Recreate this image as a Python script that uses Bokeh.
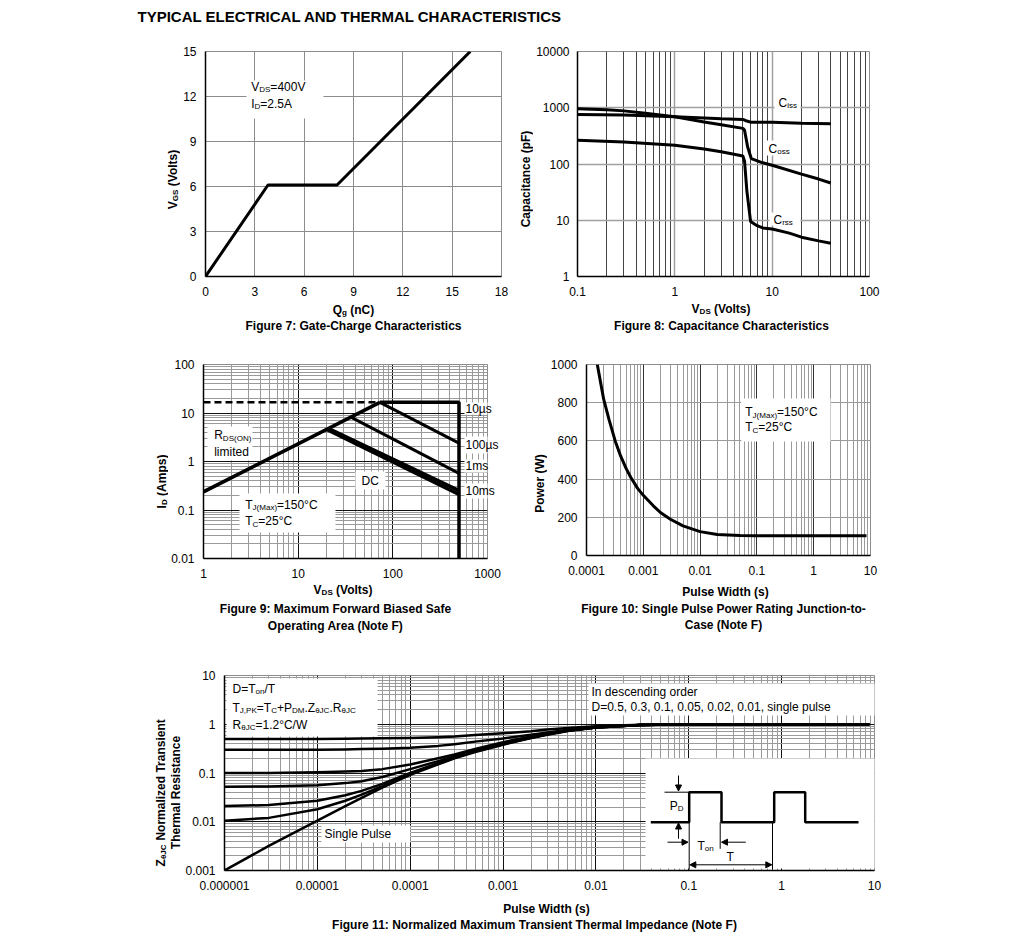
import math
from bokeh.plotting import figure
from bokeh.models import (Range1d, LinearScale, FixedTicker, CustomJSTickFormatter,
                          Label, Arrow, NormalHead, BoxAnnotation, LinearAxis)
from bokeh.layouts import column, row
from bokeh.embed import file_html
from bokeh.resources import INLINE

FONT = "Liberation Sans"

# ---------------- data ----------------
# Figure 7: gate charge
f7_qg = [0.0, 3.8, 8.0, 16.1]
f7_vgs = [0.0, 6.1, 6.1, 15.0]
f7_xticks = [0, 3, 6, 9, 12, 15, 18]
f7_xlabels = ["0", "3", "6", "9", "12", "15", "18"]
f7_yticks = [0, 3, 6, 9, 12, 15]
f7_ylabels = ["0", "3", "6", "9", "12", "15"]

# Figure 8: capacitance
f8_ciss_v = [0.1, 0.3, 1, 2, 3, 5, 5.5, 6, 10, 20, 40]
f8_ciss = [760, 740, 690, 660, 640, 620, 580, 555, 550, 530, 520]
f8_coss_v = [0.1, 0.2, 0.3, 0.5, 1, 2, 3, 5, 5.2, 5.6, 6.1, 8, 10, 20, 30, 40]
f8_coss = [960, 920, 880, 800, 690, 560, 500, 430, 400, 200, 125, 105, 95, 66, 54, 46]
f8_crss_v = [0.1, 0.3, 1, 2, 3, 5, 5.2, 5.5, 6.0, 7, 8, 10, 15, 20, 30, 40]
f8_crss = [265, 245, 215, 185, 165, 139, 112, 33, 9.5, 8.0, 7.3, 7.0, 5.9, 5.0, 4.3, 3.9]
f8_xticks = [0.1, 1, 10, 100]
f8_xlabels = ["0.1", "1", "10", "100"]
f8_yticks = [1, 10, 100, 1000, 10000]
f8_ylabels = ["1", "10", "100", "1000", "10000"]

# Figure 9: safe operating area
f9_rds_v = [1, 73]
f9_rds_i = [0.237, 16.6]
f9_lim_v = [1, 73]
f9_lim_i = [16.6, 16.6]
f9_10us_v = [73, 500, 500]
f9_10us_i = [16.6, 16.6, 0.01]
f9_100us_v = [73, 500]
f9_100us_i = [16.6, 2.4]
f9_1ms_v = [36, 500]
f9_1ms_i = [8.2, 0.57]
f9_10ms_v = [21, 500]
f9_10ms_i = [4.8, 0.25]
f9_dc_v = [20, 500]
f9_dc_i = [4.6, 0.21]
f9_xticks = [1, 10, 100, 1000]
f9_xlabels = ["1", "10", "100", "1000"]
f9_yticks = [0.01, 0.1, 1, 10, 100]
f9_ylabels = ["0.01", "0.1", "1", "10", "100"]
f9_curve_names = ["10µs", "100µs", "1ms", "10ms"]

# Figure 10: single pulse power
f10_t = [1.55e-4, 2e-4, 2.5e-4, 3.2e-4, 4e-4, 5e-4, 6e-4, 8e-4, 1e-3, 1.5e-3, 2e-3,
         3e-3, 5e-3, 1e-2, 2e-2, 5e-2, 0.1, 1, 8.5]
f10_p = [1000, 820, 710, 600, 520, 455, 410, 350, 315, 260, 225,
         190, 155, 125, 110, 105, 104, 104, 104]
f10_xticks = [1e-4, 1e-3, 1e-2, 1e-1, 1, 10]
f10_xlabels = ["0.0001", "0.001", "0.01", "0.1", "1", "10"]
f10_yticks = [0, 200, 400, 600, 800, 1000]
f10_ylabels = ["0", "200", "400", "600", "800", "1000"]

# Figure 11: normalized transient thermal impedance
f11_t = [1e-6, 3e-6, 1e-5, 2e-5, 3e-5, 5e-5, 1e-4, 2e-4, 3e-4, 5e-4, 1e-3, 2e-3, 3e-3,
         5e-3, 1e-2, 3e-2, 0.1, 1, 8.8]
f11_d05 = [0.50, 0.50, 0.50, 0.505, 0.51, 0.515, 0.52, 0.54, 0.56, 0.60, 0.65, 0.72, 0.78,
           0.84, 0.91, 0.98, 1, 1, 1]
f11_d03 = [0.30, 0.30, 0.30, 0.305, 0.31, 0.315, 0.33, 0.36, 0.39, 0.44, 0.51, 0.61, 0.68,
           0.77, 0.88, 0.97, 1, 1, 1]
f11_d01 = [0.10, 0.10, 0.103, 0.107, 0.11, 0.12, 0.15, 0.20, 0.24, 0.31, 0.43, 0.56, 0.64,
           0.75, 0.87, 0.97, 1, 1, 1]
f11_d005 = [0.052, 0.053, 0.056, 0.062, 0.068, 0.083, 0.12, 0.175, 0.22, 0.29, 0.41, 0.54,
            0.63, 0.745, 0.86, 0.97, 1, 1, 1]
f11_d002 = [0.021, 0.022, 0.027, 0.035, 0.043, 0.06, 0.10, 0.16, 0.21, 0.28, 0.40, 0.53,
            0.62, 0.74, 0.86, 0.97, 1, 1, 1]
f11_d001 = [0.0105, 0.012, 0.018, 0.027, 0.036, 0.054, 0.097, 0.155, 0.205, 0.275, 0.39,
            0.525, 0.62, 0.735, 0.86, 0.97, 1, 1, 1]
f11_single = [0.001, 0.0032, 0.0105, 0.021, 0.031, 0.05, 0.092, 0.15, 0.20, 0.27, 0.38,
              0.52, 0.61, 0.73, 0.86, 0.97, 1, 1, 1]
f11_xticks = [1e-6, 1e-5, 1e-4, 1e-3, 1e-2, 1e-1, 1, 10]
f11_xlabels = ["0.000001", "0.00001", "0.0001", "0.001", "0.01", "0.1", "1", "10"]
f11_yticks = [0.001, 0.01, 0.1, 1, 10]
f11_ylabels = ["0.001", "0.01", "0.1", "1", "10"]

# inset pulse diagram of figure 11 (diagram units = frame pixels)
pulse_x = [426.3, 464.7, 464.7, 497, 497, 549.7, 549.7, 580.7, 580.7, 634]
pulse_y = [48.3, 48.3, 78.3, 78.3, 48.3, 48.3, 78.3, 78.3, 48.3, 48.3]

# ---------------- helpers ----------------
REG = {' ': 278, '(': 333, ')': 333, '+': 584, ',': 278, '-': 333, '.': 278, '/': 278,
       ':': 278, '=': 584, '°': 400, 'µ': 576, 'θ': 556,
       'A': 667, 'B': 667, 'C': 722, 'D': 722, 'E': 667, 'F': 611, 'G': 778, 'H': 722,
       'I': 278, 'J': 500, 'K': 667, 'L': 556, 'M': 833, 'N': 722, 'O': 778, 'P': 667,
       'Q': 778, 'R': 722, 'S': 667, 'T': 611, 'U': 722, 'V': 667, 'W': 944, 'X': 667,
       'Y': 667, 'Z': 611,
       'a': 556, 'b': 556, 'c': 500, 'd': 556, 'e': 556, 'f': 278, 'g': 556, 'h': 556,
       'i': 222, 'j': 222, 'k': 500, 'l': 222, 'm': 833, 'n': 556, 'o': 556, 'p': 556,
       'q': 556, 'r': 333, 's': 500, 't': 278, 'u': 556, 'v': 500, 'w': 722, 'x': 500,
       'y': 500, 'z': 500}
BOLD = dict(REG)
BOLD.update({':': 333, 'µ': 611, 'θ': 611, 'A': 722, 'B': 722, 'J': 556, 'K': 722, 'L': 611,
             'b': 611, 'c': 556, 'd': 611, 'f': 333, 'g': 611, 'h': 611, 'i': 278, 'j': 278,
             'k': 556, 'l': 278, 'm': 889, 'n': 611, 'o': 611, 'p': 611, 'q': 611, 'r': 389,
             's': 556, 't': 333, 'u': 611, 'v': 556, 'w': 778, 'x': 556, 'y': 556})

GEO = {}


def tw(s, size, bold=False):
    tbl = BOLD if bold else REG
    return sum(tbl.get(c, 556) for c in s) * size / 1000.0


def rich(p, x, y, segs, size=12, bold=False, align="left", vertical=False, sub=0.67):
    """Text made of (text, is_subscript) segments in frame-pixel coords;
    y is the visual centre of the capitals."""
    if isinstance(segs, str):
        segs = [(segs, False)]
    sizes = [size * sub if s else size for _, s in segs]
    widths = [tw(t, sz, bold) for (t, _), sz in zip(segs, sizes)]
    total = sum(widths)
    single = len(segs) == 1 and align == "center"
    pos = (y if vertical else x)
    if align == "center" and not single:
        pos -= total / 2.0
    for (t, s), sz, w in zip(segs, sizes, widths):
        lead = len(t) - len(t.lstrip(' '))
        lw = tw(' ' * lead, sz, bold)
        t = t.lstrip(' ')
        drop = 0.27 * size if s else 0.0
        if vertical:
            lx, ly, ang = x + drop, pos + lw, math.pi / 2
        else:
            lx, ly, ang = pos + lw, y - drop, 0.0
        p.add_layout(Label(x=lx, y=ly, text=t, x_range_name="px", y_range_name="px",
                           text_font=FONT, text_font_size="%.2fpx" % sz,
                           text_font_style="bold" if bold else "normal",
                           text_align="center" if single else "left",
                           text_baseline="middle", angle=ang, text_color="black"))
        pos += w


def put(p, X, Y, segs, **kw):
    fl, fb = GEO[id(p)]
    rich(p, X - fl, fb - Y, segs, **kw)


def wbox(p, X0, X1, Y0, Y1):
    fl, fb = GEO[id(p)]
    p.add_layout(BoxAnnotation(left=X0 - fl, right=X1 - fl, bottom=fb - Y1, top=fb - Y0,
                               x_range_name="px", y_range_name="px", fill_color="white",
                               fill_alpha=1.0, line_color=None, level="underlay"))


def fmt(vals, labs):
    return CustomJSTickFormatter(args=dict(vals=vals, labs=labs), code="""
        for (let i = 0; i < vals.length; i++) {
            if (Math.abs(vals[i] - tick) <= 1e-9 * Math.abs(vals[i]) + 1e-12) return labs[i];
        }
        return "";
    """)


def log_minors(lo, hi):
    return [m * 10.0 ** k for k in range(lo, hi) for m in range(2, 10)]


def set_ticks(p, axis, vals, labs, minors, major_color, minor_color, major_width=1.0,
              minor_width=1.0):
    t = FixedTicker(ticks=vals, minor_ticks=minors)
    ax = p.xaxis[0] if axis == "x" else p.yaxis[0]
    g = p.xgrid[0] if axis == "x" else p.ygrid[0]
    ax.ticker = t
    g.ticker = t
    ax.formatter = fmt(vals, labs)
    g.grid_line_color = major_color
    g.grid_line_width = major_width
    g.grid_line_alpha = 1.0
    g.minor_grid_line_color = minor_color
    g.minor_grid_line_width = minor_width


def px_ranges(p, w, h):
    p.extra_x_ranges = {"px": Range1d(0, w)}
    p.extra_y_ranges = {"px": Range1d(0, h)}
    p.extra_x_scales = {"px": LinearScale()}
    p.extra_y_scales = {"px": LinearScale()}


def chart(left, top, L, T, fw, fh, R, B, xr, yr, xlog, ylog, ystand=9):
    p = figure(frame_width=fw, frame_height=fh, min_border_left=L, min_border_right=R,
               min_border_top=T, min_border_bottom=B, x_range=Range1d(*xr),
               y_range=Range1d(*yr), x_axis_type="log" if xlog else "linear",
               y_axis_type="log" if ylog else "linear", toolbar_location=None,
               output_backend="svg", background_fill_color="white",
               border_fill_color="white")
    px_ranges(p, fw, fh)
    p.outline_line_color = "#8c8c8c"
    p.outline_line_width = 1
    for ax in (p.xaxis[0], p.yaxis[0]):
        ax.axis_line_color = "black"
        ax.axis_line_width = 1.5
        ax.major_tick_line_color = None
        ax.minor_tick_line_color = None
        ax.major_tick_out = 0
        ax.major_tick_in = 0
        ax.minor_tick_out = 0
        ax.minor_tick_in = 0
        ax.major_label_text_font = FONT
        ax.major_label_text_font_size = "12px"
        ax.major_label_text_color = "black"
    p.xaxis[0].major_label_standoff = 10
    p.yaxis[0].major_label_standoff = ystand
    GEO[id(p)] = (left + L, top + T + fh)
    return p


def strip(left, top, w, h):
    s = figure(frame_width=w, frame_height=h, min_border=0, x_range=Range1d(0, w),
               y_range=Range1d(0, h), x_axis_location=None, y_axis_location=None,
               toolbar_location=None, output_backend="svg", background_fill_color="white",
               border_fill_color="white")
    s.grid.visible = False
    s.outline_line_color = None
    px_ranges(s, w, h)
    GEO[id(s)] = (left, top + h)
    return s


# ---------------- layout skeleton (page pixels) ----------------
H = strip(0, 0, 1012, 36)
S7 = strip(0, 36, 180, 266)
P7 = chart(180, 36, 25, 15, 296, 225, 10, 26, (0, 18), (0, 15), False, False)
S8 = strip(511, 36, 22, 266)
P8 = chart(533, 36, 42, 15, 292, 225, 145, 26, (0.1, 100), (1, 10000), True, True, 8)
C1 = strip(0, 302, 1012, 38)
S9 = strip(0, 340, 168, 242)
P9 = chart(168, 340, 33, 20, 284, 194, 30, 28, (1, 1000), (0.01, 100), True, True)
S10 = strip(515, 340, 30, 242)
P10 = chart(545, 340, 38, 24, 284, 191, 145, 27, (1e-4, 10), (0, 1000), True, False)
C2 = strip(0, 582, 1012, 73)
S11 = strip(0, 655, 182, 241)
P11 = chart(182, 655, 40, 20, 650, 195, 140, 26, (1e-6, 10), (0.001, 10), True, True)
C3 = strip(0, 896, 1012, 40)

put(H, 137, 16, "TYPICAL ELECTRICAL AND THERMAL CHARACTERISTICS", size=15, bold=True)

# ---------------- Figure 7 ----------------
set_ticks(P7, "x", f7_xticks, f7_xlabels, [], "#8c8c8c", None)
set_ticks(P7, "y", f7_yticks, f7_ylabels, [], "#8c8c8c", None)
wbox(P7, 246, 323, 80, 118)
P7.line(f7_qg, f7_vgs, line_width=3, color="black")
put(P7, 250.7, 86, [("V", 0), ("DS", 1), ("=400V", 0)])
put(P7, 250.7, 103, [("I", 0), ("D", 1), ("=2.5A", 0)])
put(S7, 172, 163.5, [("V", 0), ("GS", 1), (" (Volts)", 0)], bold=True, align="center",
    vertical=True)
put(C1, 353, 309, [("Q", 0), ("g", 1), (" (nC)", 0)], bold=True, align="center")
put(C1, 353, 325, "Figure 7: Gate-Charge Characteristics", bold=True, align="center")

# ---------------- Figure 8 ----------------
set_ticks(P8, "x", f8_xticks, f8_xlabels, log_minors(-1, 2), "#a0a0a0", "#444444", 1.5, 1.0)
set_ticks(P8, "y", f8_yticks, f8_ylabels, [], "#a0a0a0", None, 1.5)
wbox(P8, 772, 798, 95, 112)
wbox(P8, 762, 787, 140, 155)
wbox(P8, 767, 798, 212, 225)
P8.line(f8_ciss_v, f8_ciss, line_width=3, color="black")
P8.line(f8_coss_v, f8_coss, line_width=3, color="black")
P8.line(f8_crss_v, f8_crss, line_width=3, color="black")
put(P8, 776, 102, [("C", 0), ("iss", 1)])
put(P8, 766, 148, [("C", 0), ("oss", 1)])
put(P8, 771, 219, [("C", 0), ("rss", 1)])
put(S8, 525, 163.5, "Capacitance (pF)", bold=True, align="center", vertical=True)
put(C1, 721, 308, [("V", 0), ("DS", 1), (" (Volts)", 0)], bold=True, align="center")
put(C1, 721, 325, "Figure 8: Capacitance Characteristics", bold=True, align="center")

# ---------------- Figure 9 ----------------
set_ticks(P9, "x", f9_xticks, f9_xlabels, log_minors(0, 3), "#111111", "#9a9a9a")
set_ticks(P9, "y", f9_yticks, f9_ylabels, log_minors(-2, 2), "#111111", "#9a9a9a")
wbox(P9, 205, 250, 422, 456)
wbox(P9, 353, 383, 467, 485)
wbox(P9, 237, 333, 489, 528)
wbox(P9, 462, 492, 398, 410)
wbox(P9, 462, 495, 432, 449)
wbox(P9, 462, 485, 455, 468)
wbox(P9, 462, 492, 479, 494)
P9.line(f9_lim_v, f9_lim_i, line_width=2.5, color="black", line_dash="7 4")
P9.line(f9_rds_v, f9_rds_i, line_width=3.5, color="black")
P9.line(f9_10us_v, f9_10us_i, line_width=3.5, color="black")
P9.line(f9_100us_v, f9_100us_i, line_width=3, color="black")
P9.line(f9_1ms_v, f9_1ms_i, line_width=3, color="black")
P9.line(f9_10ms_v, f9_10ms_i, line_width=3.5, color="black")
P9.line(f9_dc_v, f9_dc_i, line_width=3.5, color="black")
put(P9, 211.7, 430.7, [("R", 0), ("DS(ON)", 1)])
put(P9, 211.7, 447.7, "limited")
put(P9, 359, 476, "DC")
put(P9, 242.7, 500, [("T", 0), ("J(Max)", 1), ("=150°C", 0)])
put(P9, 242.7, 516.7, [("T", 0), ("C", 1), ("=25°C", 0)])
# pulse-duration names sit across the right frame edge: use a right-hand axis for them
f9_name_y = [554 - 404, 554 - 440, 554 - 461.7, 554 - 486.7]
name_axis = LinearAxis(y_range_name="px", ticker=FixedTicker(ticks=f9_name_y),
                       formatter=fmt(f9_name_y, f9_curve_names), axis_line_color=None,
                       major_tick_line_color=None, minor_tick_line_color=None,
                       major_tick_out=0, major_tick_in=0, minor_tick_out=0, minor_tick_in=0,
                       major_label_standoff=-22, major_label_text_font=FONT,
                       major_label_text_font_size="12px", major_label_text_color="black")
P9.add_layout(name_axis, "right")
put(S9, 161, 457, [("I", 0), ("D", 1), (" (Amps)", 0)], bold=True, align="center",
    vertical=True)
put(C2, 343, 589, [("V", 0), ("DS", 1), (" (Volts)", 0)], bold=True, align="center")
put(C2, 335, 608, "Figure 9: Maximum Forward Biased Safe", bold=True, align="center")
put(C2, 335, 625, "Operating Area (Note F)", bold=True, align="center")

# ---------------- Figure 10 ----------------
set_ticks(P10, "x", f10_xticks, f10_xlabels, log_minors(-4, 1), "#333333", "#9a9a9a")
set_ticks(P10, "y", f10_yticks, f10_ylabels, [], "#9a9a9a", None)
wbox(P10, 738, 827, 398, 441)
P10.line(f10_t, f10_p, line_width=3, color="black")
put(P10, 741.7, 411.7, [("T", 0), ("J(Max)", 1), ("=150°C", 0)])
put(P10, 741.7, 426.7, [("T", 0), ("C", 1), ("=25°C", 0)])
put(S10, 537, 459, "Power (W)", bold=True, align="center", vertical=True)
put(C2, 725, 591, "Pulse Width (s)", bold=True, align="center")
put(C2, 723, 608, "Figure 10: Single Pulse Power Rating Junction-to-", bold=True,
    align="center")
put(C2, 723, 624, "Case (Note F)", bold=True, align="center")

# ---------------- Figure 11 ----------------
set_ticks(P11, "x", f11_xticks, f11_xlabels, log_minors(-6, 1), "#111111", "#9a9a9a")
set_ticks(P11, "y", f11_yticks, f11_ylabels, log_minors(-3, 1), "#111111", "#9a9a9a")
wbox(P11, 224, 375, 678, 736)
wbox(P11, 586, 873, 683, 715)
wbox(P11, 319, 408, 825, 842)
wbox(P11, 643, 873, 758, 868)
for z in (f11_d05, f11_d03, f11_d01, f11_d005, f11_d002, f11_d001, f11_single):
    P11.line(f11_t, z, line_width=2.5, color="black", line_join="round")
put(P11, 230, 688, [("D=T", 0), ("on", 1), ("/T", 0)])
put(P11, 230, 707, [("T", 0), ("J,PK", 1), ("=T", 0), ("C", 1), ("+P", 0), ("DM", 1),
                    (".Z", 0), ("θJC", 1), (".R", 0), ("θJC", 1)])
put(P11, 230, 724, [("R", 0), ("θJC", 1), ("=1.2°C/W", 0)])
put(P11, 589, 691, "In descending order")
put(P11, 589, 706, "D=0.5, 0.3, 0.1, 0.05, 0.02, 0.01, single pulse")
put(P11, 322, 833, "Single Pulse")

# pulse diagram (frame-pixel diagram units)
P11.line(pulse_x, pulse_y, x_range_name="px", y_range_name="px", line_width=2.5,
         color="black")
thin = dict(x_range_name="px", y_range_name="px", line_width=1, color="black")
P11.line([440, 464.7], [78.3, 78.3], **thin)
P11.line([464.7, 464.7], [48.3, 1], **thin)
P11.line([548, 548], [48.3, 1], **thin)
P11.line([495.7, 495.7], [48.3, 21.7], **thin)


def head():
    return NormalHead(size=6, fill_color="black", line_color="black", line_width=1)


for (xs, ys, xe, ye) in [(454, 95, 454, 79.5), (454, 31.7, 454, 47.5),
                         (443, 28.3, 463.5, 28.3), (521.3, 28.3, 497, 28.3)]:
    P11.add_layout(Arrow(end=head(), x_start=xs, y_start=ys, x_end=xe, y_end=ye,
                         x_range_name="px", y_range_name="px", line_width=1,
                         line_color="black"))
P11.add_layout(Arrow(start=head(), end=head(), x_start=465.3, y_start=5.7, x_end=547.3,
                     y_end=5.7, x_range_name="px", y_range_name="px", line_width=1,
                     line_color="black"))
rich(P11, 445.3, 65, [("P", 0), ("D", 1)])
rich(P11, 473, 25, [("T", 0), ("on", 1)])
rich(P11, 502, 13.3, "T")

put(S11, 160, 772, [("Z", 0), ("θJC", 1), (" Normalized Transient", 0)], bold=True,
    align="center", vertical=True)
put(S11, 175, 772, "Thermal Resistance", bold=True, align="center", vertical=True)
put(C3, 546, 908, "Pulse Width (s)", bold=True, align="center")
put(C3, 534, 924, "Figure 11: Normalized Maximum Transient Thermal Impedance (Note F)",
    bold=True, align="center")

layout = column(H, row(S7, P7, S8, P8), C1, row(S9, P9, S10, P10), C2, row(S11, P11), C3)
open("out.html", "w").write(file_html(layout, INLINE, "Typical characteristics"))
